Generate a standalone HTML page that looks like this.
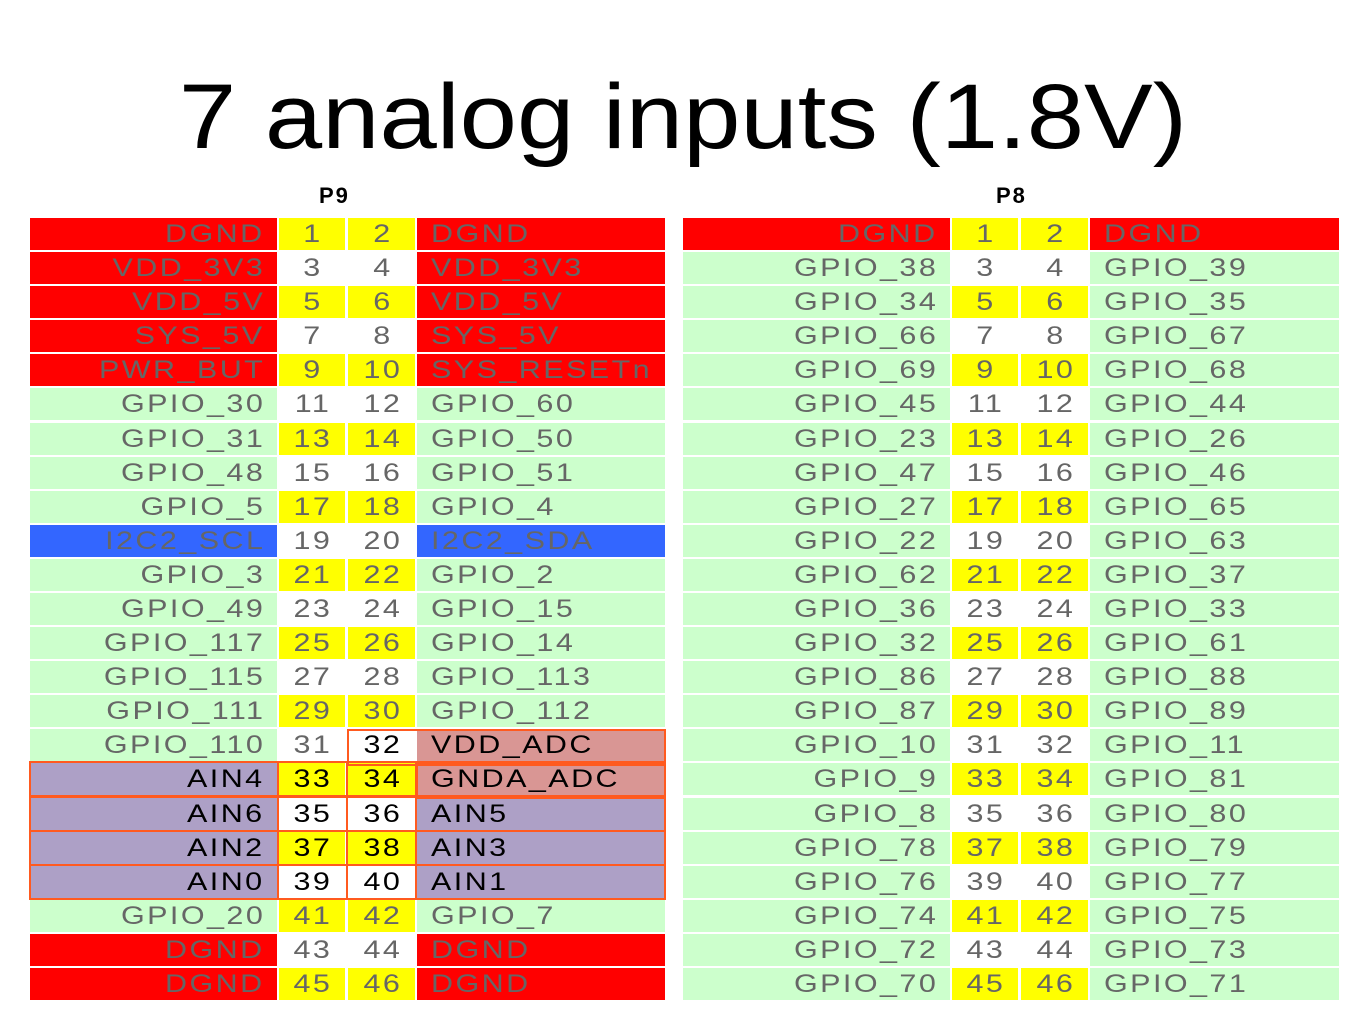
<!DOCTYPE html><html><head><meta charset="utf-8"><style>
body{margin:0;width:1366px;height:1025px;background:#fff;position:relative;overflow:hidden;font-family:"Liberation Sans",sans-serif}
.t{position:absolute;left:0;width:1366px;text-align:center;top:62px;font-size:92px;line-height:110px;color:#000;transform:scaleX(1.12);transform-origin:683px 0}
.h{position:absolute;font-size:22px;font-weight:bold;letter-spacing:2px}
.c{position:absolute;height:32px;line-height:33px;font-size:25px;letter-spacing:2px;color:#666;box-sizing:border-box;white-space:nowrap}
.c span{display:inline-block;transform:scaleX(1.22)}
.r{text-align:right;padding-right:12px}.r span{transform-origin:right center}
.l{padding-left:14px}.l span{transform-origin:left center}
.m{text-align:center;padding-left:2px}.m span{transform-origin:center}
</style></head><body>
<div class="t">7 analog inputs (1.8V)</div>
<div class="h" style="left:319px;top:183px">P9</div>
<div class="h" style="left:996px;top:183px">P8</div>
<div id="g"></div>
<script>
const R='#ff0000',Y='#ffff00',G='#ccffcc',B='#3366ff',P='#ada0c6',K='#d99694',W='#fff';
const p9=[['DGND','DGND',R],['VDD_3V3','VDD_3V3',R],['VDD_5V','VDD_5V',R],['SYS_5V','SYS_5V',R],['PWR_BUT','SYS_RESETn',R],
['GPIO_30','GPIO_60'],['GPIO_31','GPIO_50'],['GPIO_48','GPIO_51'],['GPIO_5','GPIO_4'],['I2C2_SCL','I2C2_SDA',B],
['GPIO_3','GPIO_2'],['GPIO_49','GPIO_15'],['GPIO_117','GPIO_14'],['GPIO_115','GPIO_113'],['GPIO_111','GPIO_112'],
['GPIO_110','VDD_ADC'],['AIN4','GNDA_ADC'],['AIN6','AIN5'],['AIN2','AIN3'],['AIN0','AIN1'],['GPIO_20','GPIO_7'],['DGND','DGND',R],['DGND','DGND',R]];
const p8=[['DGND','DGND',R],['GPIO_38','GPIO_39'],['GPIO_34','GPIO_35'],['GPIO_66','GPIO_67'],['GPIO_69','GPIO_68'],['GPIO_45','GPIO_44'],
['GPIO_23','GPIO_26'],['GPIO_47','GPIO_46'],['GPIO_27','GPIO_65'],['GPIO_22','GPIO_63'],['GPIO_62','GPIO_37'],['GPIO_36','GPIO_33'],
['GPIO_32','GPIO_61'],['GPIO_86','GPIO_88'],['GPIO_87','GPIO_89'],['GPIO_10','GPIO_11'],['GPIO_9','GPIO_81'],['GPIO_8','GPIO_80'],
['GPIO_78','GPIO_79'],['GPIO_76','GPIO_77'],['GPIO_74','GPIO_75'],['GPIO_72','GPIO_73'],['GPIO_70','GPIO_71']];
let h='';
function cell(x,y,w,bg,txt,cls,extra){h+=`<div class="c ${cls}" style="left:${x}px;top:${y}px;width:${w}px;background:${bg};${extra||''}"><span>${txt}</span></div>`;}
function tab(d,x){
 d.forEach((r,i)=>{const y=Math.round(218+i*34.09);const pc=i%2==0?Y:W;
  let lb=r[2]||G,rb=r[2]||G,exL='',exR='',ex1='',ex2='';
  if(x.ain){ if(i>=16&&i<=19){lb=P;rb=P;exL=exR=ex1=ex2='color:#000;';}
   if(i==15){rb=K;exR='color:#000;';ex2='color:#000;';}
   if(i==16){rb=K;}}
  cell(x.a,y,x.aw,lb,r[0],'r',exL);
  cell(x.b,y,66,pc,2*i+1,'m',ex1);
  cell(x.c,y,67,pc,2*i+2,'m',ex2);
  cell(x.d,y,x.dw,rb,r[1],'l',exR);
 });}
tab(p9,{a:30,aw:247,b:279,c:348,d:417,dw:248,ain:1});
tab(p8,{a:683,aw:267,b:952,c:1021,d:1090,dw:249});
const o='#ff5a1f';
function box(x,y,w,hh){h+=`<div style="position:absolute;left:${x}px;top:${y}px;width:${w}px;height:${hh}px;border:2px solid ${o};box-sizing:border-box"></div>`;}
box(347,729,319,37);
for(let i=16;i<=19;i++){const y=Math.round(218+i*34.09)-2;box(29,y,637,36);box(277,y,71,36);box(346,y,71,36);}
box(416,763,250,36);
document.getElementById('g').innerHTML=h;
</script>
</body></html>
